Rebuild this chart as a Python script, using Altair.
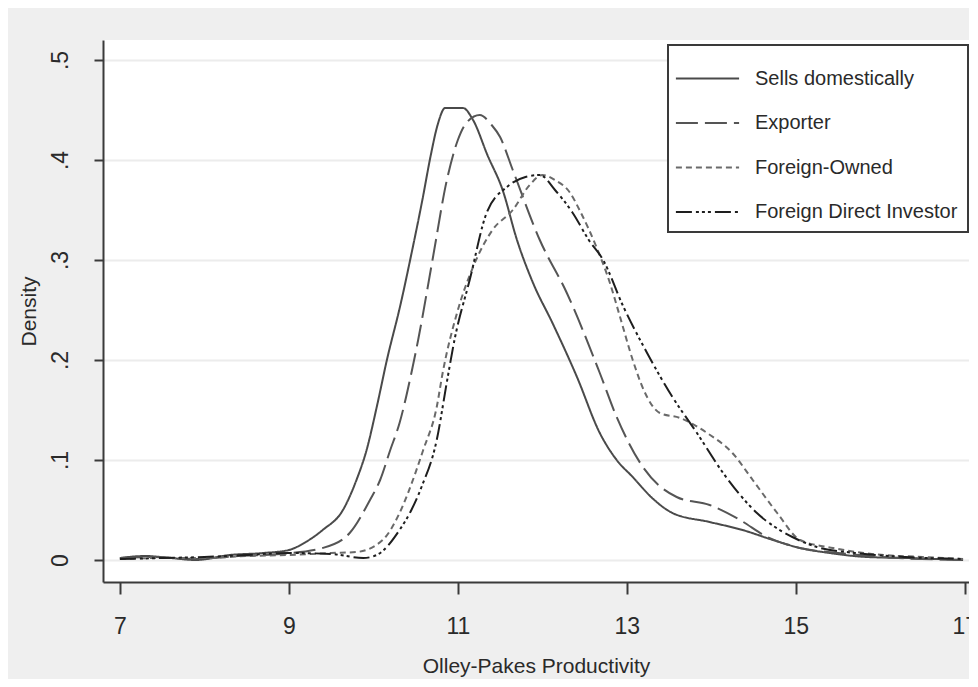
import altair as alt
import pandas as pd

# ---- data ----
series_names = ["Sells domestically", "Exporter", "Foreign-Owned", "Foreign Direct Investor"]

sells_x = [7.0, 7.3, 7.6, 7.9, 8.3, 8.7, 9.0, 9.2, 9.4, 9.64, 9.8, 9.92, 10.04, 10.16, 10.32, 10.46,
           10.58, 10.68, 10.76, 10.85, 11.06, 11.18, 11.35, 11.53, 11.7, 11.89, 12.12, 12.41, 12.68,
           12.88, 13.07, 13.3, 13.54, 13.98, 14.37, 14.73, 15.05, 15.4, 15.84, 16.3, 16.98]
sells_y = [0.002, 0.004, 0.002, 0.0, 0.005, 0.007, 0.01, 0.018, 0.03, 0.05, 0.08, 0.11, 0.153, 0.2,
           0.255, 0.31, 0.36, 0.405, 0.435, 0.452, 0.452, 0.44, 0.405, 0.37, 0.32, 0.277, 0.237,
           0.183, 0.127, 0.1, 0.083, 0.062, 0.047, 0.038, 0.03, 0.02, 0.012, 0.007, 0.003, 0.002, 0.0]

exp_x = [7.0, 7.4, 7.9, 8.4, 8.9, 9.4, 9.72, 9.96, 10.08, 10.2, 10.31, 10.45, 10.53, 10.7, 10.87,
         11.0, 11.1, 11.26, 11.4, 11.5, 11.65, 11.97, 12.29, 12.68, 12.88, 13.19, 13.59, 13.98,
         14.34, 14.66, 15.05, 15.5, 16.0, 16.98]
exp_y = [0.002, 0.003, 0.001, 0.004, 0.006, 0.012, 0.027, 0.06, 0.08, 0.11, 0.137, 0.187, 0.22,
         0.3, 0.38, 0.42, 0.437, 0.445, 0.435, 0.423, 0.39, 0.32, 0.267, 0.187, 0.143, 0.093, 0.063,
         0.055, 0.04, 0.023, 0.012, 0.007, 0.003, 0.0]

fo_x = [7.0, 7.5, 8.0, 8.5, 9.0, 9.5, 9.8, 10.11, 10.31, 10.41, 10.59, 10.75, 10.82, 10.99, 11.18,
        11.41, 11.65, 11.85, 12.0, 12.15, 12.33, 12.44, 12.64, 12.8, 12.92, 13.07, 13.2, 13.39,
        13.63, 13.95, 14.25, 14.49, 14.78, 15.05, 15.44, 15.9, 16.5, 16.98]
fo_y = [0.001, 0.002, 0.002, 0.004, 0.005, 0.007, 0.008, 0.02, 0.047, 0.067, 0.11, 0.153, 0.187,
        0.247, 0.293, 0.33, 0.35, 0.375, 0.385, 0.38, 0.367, 0.35, 0.313, 0.277, 0.243, 0.2, 0.17,
        0.147, 0.142, 0.127, 0.107, 0.08, 0.047, 0.02, 0.012, 0.006, 0.003, 0.001]

fdi_x = [7.0, 7.5, 8.0, 8.5, 9.0, 9.5, 9.88, 10.04, 10.31, 10.45, 10.57, 10.75, 10.87, 10.96, 11.14,
         11.34, 11.58, 11.8, 11.97, 12.15, 12.36, 12.55, 12.72, 12.95, 13.24, 13.54, 13.83, 14.14,
         14.54, 14.96, 15.25, 15.7, 16.3, 16.98]
fdi_y = [0.001, 0.002, 0.003, 0.005, 0.007, 0.006, 0.002, 0.005, 0.03, 0.05, 0.073, 0.12, 0.178,
         0.22, 0.28, 0.347, 0.373, 0.383, 0.385, 0.37, 0.347, 0.32, 0.3, 0.255, 0.207, 0.163, 0.127,
         0.087, 0.047, 0.023, 0.013, 0.007, 0.003, 0.001]

x_ticks = [7, 9, 11, 13, 15, 17]
y_ticks = [0, 0.1, 0.2, 0.3, 0.4, 0.5]

# ---- build table ----
frames = []
for name, xs, ys in zip(series_names,
                        [sells_x, exp_x, fo_x, fdi_x],
                        [sells_y, exp_y, fo_y, fdi_y]):
    frames.append(pd.DataFrame({"x": xs, "y": ys, "series": name, "order": range(len(xs))}))
df = pd.concat(frames, ignore_index=True)

FONT = "'Liberation Sans', Arial, sans-serif"
TXT = "#2a2a2a"

colors = ["#4a4a4a", "#555555", "#6a6a6a", "#1e1e1e"]
dashes = [[1, 0], [22, 7], [6, 4], [16, 4, 3, 3, 3, 3, 3, 4]]
widths = [2.0, 2.0, 2.0, 2.6]

legend = alt.Legend(
    title=None, orient="none", legendX=565, legendY=5,
    symbolType="M-1.42,0H1.42", symbolSize=1980, symbolOffset=6,
    labelOffset=24, labelFont=FONT, labelFontSize=20, labelColor=TXT,
    labelLimit=400, strokeColor="#3a3a3a", fillColor="#ffffff", padding=10,
    rowPadding=10.5, symbolStrokeWidth=2.4,
)

chart = alt.Chart(df).mark_line(interpolate="monotone").encode(
    x=alt.X("x:Q",
            scale=alt.Scale(domain=[6.8, 17.05], nice=False, zero=False),
            axis=alt.Axis(values=x_ticks, title="Olley-Pakes Productivity", grid=False,
                          tickSize=12, labelPadding=21, titlePadding=17, labelFontSize=23,
                          titleFontSize=21)),
    y=alt.Y("y:Q",
            scale=alt.Scale(domain=[-0.022, 0.52], nice=False, zero=False),
            axis=alt.Axis(values=y_ticks, title="Density", grid=True,
                          labelExpr="datum.value == 0 ? '0' : replace(format(datum.value, '.1f'), '0.', '.')",
                          labelAngle=270, labelAlign="center", labelBaseline="bottom",
                          tickSize=9, labelPadding=22, titlePadding=10, labelFontSize=23,
                          titleFontSize=21)),
    color=alt.Color("series:N", scale=alt.Scale(domain=series_names, range=colors), legend=legend),
    strokeDash=alt.StrokeDash("series:N", scale=alt.Scale(domain=series_names, range=dashes), legend=legend),
    strokeWidth=alt.StrokeWidth("series:N", scale=alt.Scale(domain=series_names, range=widths), legend=legend),
    order="order:Q",
    detail="series:N",
).properties(
    width=866, height=542,
    autosize=alt.AutoSizeParams(type="none"),
    padding={"left": 95, "top": 32, "right": 0, "bottom": 97},
    background="#efefef",
).configure_view(
    fill="#ffffff", stroke=None,
).configure_legend(
    strokeWidth=2,
).configure_axis(
    labelFont=FONT, titleFont=FONT,
    labelColor=TXT, titleColor=TXT, titleFontWeight="normal",
    domainColor="#3a3a3a", domainWidth=2, tickColor="#3a3a3a", tickWidth=2,
    gridColor="#ececec", gridWidth=2,
)

chart.save("out.html", embed_options={"renderer": "svg", "actions": False})
